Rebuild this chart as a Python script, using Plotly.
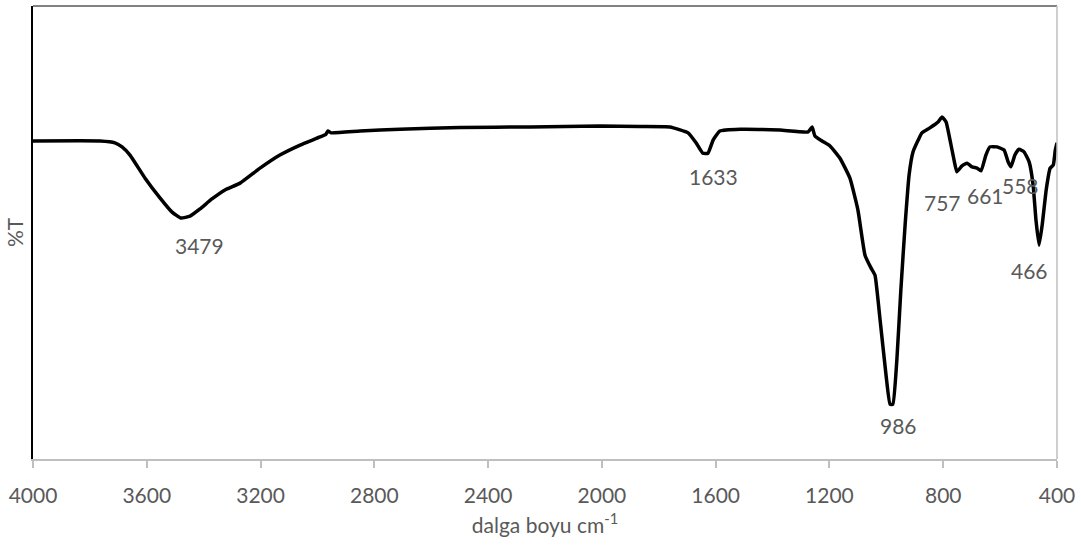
import plotly.graph_objects as go

# Wavenumber (cm-1) and transmittance (%T, arbitrary scale)
wavenumber = [4000, 3764, 3712, 3687, 3659, 3606, 3553, 3511, 3480, 3448, 3413, 3371,
              3325, 3272, 3202, 3132, 3061, 2991, 2970, 2963, 2952, 2850, 2710, 2499,
              2253, 2007, 1866, 1761, 1697, 1669, 1645, 1627, 1609, 1585, 1514, 1374,
              1275, 1261, 1251, 1226, 1198, 1163, 1128, 1100, 1075, 1054, 1040, 1022,
              1001, 987, 977, 963, 949, 934, 920, 906, 888, 875, 847, 818, 804, 790,
              776, 762, 752, 734, 716, 699, 681, 667, 650, 636, 611, 586, 572, 562,
              548, 534, 516, 498, 484, 474, 463, 452, 438, 424, 413, 406, 400]
transmittance = [70.2, 70.2, 69.8, 68.9, 67.1, 62.0, 57.6, 54.5, 53.2, 53.6, 55.2, 57.4,
                 59.4, 60.9, 64.2, 67.1, 69.3, 71.1, 71.7, 72.4, 72.0, 72.4, 72.8, 73.2,
                 73.3, 73.5, 73.4, 73.3, 72.0, 69.8, 67.5, 67.5, 70.4, 72.4, 72.8, 72.6,
                 72.2, 73.3, 71.3, 70.2, 69.1, 66.4, 62.0, 55.0, 45.0, 42.2, 40.6, 30.7,
                 18.5, 12.1, 12.1, 21.9, 37.3, 51.7, 62.7, 67.8, 70.4, 72.0, 73.1, 74.4,
                 75.5, 74.4, 70.4, 66.0, 63.4, 64.7, 65.3, 64.5, 64.2, 63.6, 67.1, 68.9,
                 68.9, 68.2, 65.6, 64.5, 67.1, 68.4, 67.8, 65.6, 60.5, 52.8, 47.2, 51.7,
                 59.4, 64.2, 64.9, 68.2, 69.8]

peak_labels = ["3479", "1633", "986", "757", "661", "558", "466"]
label_x = [3413, 1609, 959, 804, 650, 530, 495]
label_y = [47.2, 62.3, 7.5, 56.7, 58.1, 60.3, 41.7]

x_ticks = [4000, 3600, 3200, 2800, 2400, 2000, 1600, 1200, 800, 400]

FONT = "Lato, 'Open Sans', sans-serif"
GREY_TEXT = "#595959"
FS = 21

fig = go.Figure()
fig.add_trace(go.Scatter(
    x=wavenumber, y=transmittance, mode="lines",
    line=dict(color="black", width=3.5, shape="spline", smoothing=0.4),
    hoverinfo="skip", showlegend=False))

for t, xx, yy in zip(peak_labels, label_x, label_y):
    fig.add_annotation(x=xx, y=yy, text=t, showarrow=False,
                       font=dict(family=FONT, size=FS, color=GREY_TEXT),
                       xanchor="center", yanchor="middle")

fig.update_layout(
    width=1081, height=548,
    margin=dict(l=33, r=24, t=6, b=89),
    plot_bgcolor="white", paper_bgcolor="white",
    font=dict(family=FONT, size=FS, color=GREY_TEXT),
    xaxis=dict(range=[4000, 400], tickvals=x_ticks, ticktext=[str(v) for v in x_ticks],
               showgrid=False, zeroline=False, showline=True, linecolor="#bfbfbf",
               linewidth=2, ticks="outside", ticklen=7, tickwidth=2, tickcolor="#bfbfbf",
               ticklabelstandoff=10,
               tickfont=dict(family=FONT, size=FS, color=GREY_TEXT),
               title=dict(text="dalga boyu cm<sup>-1</sup>",
                          font=dict(family=FONT, size=FS, color=GREY_TEXT), standoff=12)),
    yaxis=dict(range=[0, 100], showticklabels=False, showgrid=False, zeroline=False,
               showline=True, linecolor="black", linewidth=1.5, ticks="",
               title=dict(text="%T", font=dict(family=FONT, size=FS, color=GREY_TEXT),
                          standoff=2)),
    shapes=[
        dict(type="line", xref="paper", yref="paper", x0=0, x1=1, y0=1, y1=1,
             line=dict(color="#595959", width=1.5)),
        dict(type="line", xref="paper", yref="paper", x0=1, x1=1, y0=0, y1=1,
             line=dict(color="#bfbfbf", width=1.5)),
    ],
)

fig.write_html("out.html")
